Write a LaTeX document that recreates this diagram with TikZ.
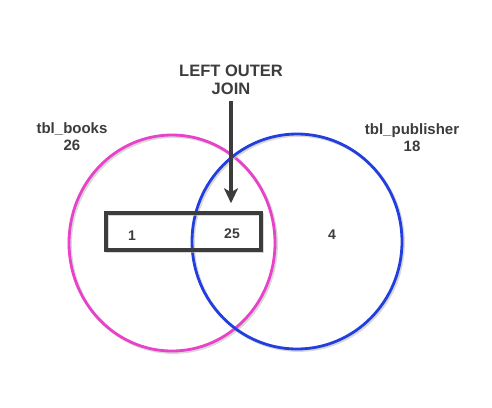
\documentclass[tikz,border=0pt]{standalone}
\usepackage{fontspec}
\setmainfont{Liberation Sans}
\usetikzlibrary{arrows.meta,positioning,shapes.geometric}
\definecolor{rose}{RGB}{232,66,200}
\definecolor{royal}{RGB}{34,62,222}
\definecolor{slate}{RGB}{60,60,60}
\definecolor{haze}{RGB}{190,190,190}
\tikzset{
  >={Stealth[length=15pt,width=14pt,inset=4pt]},
  soft shadow/.style={preaction={draw=haze,opacity=0.6,
    transform canvas={shift={(1.5pt,-1.5pt)}}}},
  set/.style={ellipse,draw=#1,line width=2.8pt,inner sep=0pt,soft shadow},
  set/.default=rose,
  band/.style={rectangle,draw=slate,line width=3.5pt,inner sep=0pt,soft shadow},
  title/.style={font=\fontsize{15}{17}\selectfont\bfseries,text=slate,align=center},
  count/.style={font=\fontsize{14}{14}\selectfont\bfseries,text=slate},
  pointer/.style={->,line width=4.5pt,draw=slate},
}

\begin{document}
\begin{tikzpicture}[x=1pt,y=-1pt]
    \useasboundingbox (0,0) rectangle (492,407);
    % the two tables
    \node[set=rose,minimum width=206pt,minimum height=216pt] (books) at (172,243) {};
    \node[set=royal,minimum width=210pt,minimum height=215pt] (publisher) at (297,241.5) {};
    \node[title] (lbooks) at (72,137) {tbl\_books\\26};
    \node[title] (lpublisher) at (412,138) {tbl\_publisher\\18};
    % rows returned by the join
    \node[band,minimum width=155pt,minimum height=37pt] (result) at (183.5,231.5) {};
    \foreach \x/\y/\n/\t in {132/236/onlybooks/1, 232/234/matched/25, 332/235/onlypub/4}
      \node[count] (\n) at (\x,\y) {\t};
    % join label and arrow
    \node[title,font=\fontsize{16.5}{18}\selectfont\bfseries] (join) at (231,80) {LEFT OUTER\\JOIN};
    \draw[pointer,shorten <=3pt,shorten >=8pt] (join.south) -- (join.south |- result.north);
  \end{tikzpicture}
\end{document}
